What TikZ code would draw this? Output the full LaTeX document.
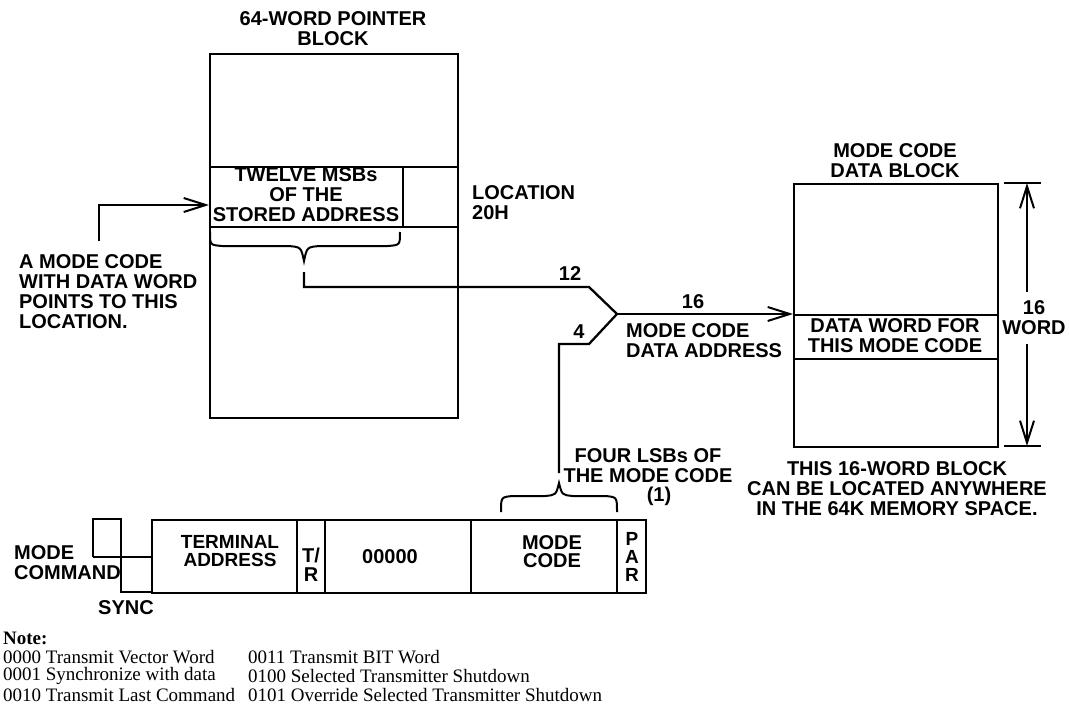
\documentclass[tikz,border=0pt]{standalone}
\usepackage{fontspec}
\setmainfont{Liberation Serif}
\newfontfamily\arialf{Liberation Sans}
\usetikzlibrary{arrows.meta}
\begin{document}
\begin{tikzpicture}[x=1pt,y=-1pt, line width=2.3pt,
  lab/.style={font=\arialf\bfseries\fontsize{20}{20}\selectfont, inner sep=0pt, align=center},
  labl/.style={lab, align=left, anchor=west},
  tight/.style={lab, font=\arialf\bfseries\fontsize{19}{18}\selectfont},
  notetxt/.style={font=\fontsize{19}{19}\selectfont, inner sep=0pt, anchor=west},
  barb/.style={-{Straight Barb[length=22pt,width=14pt,line width=2pt]}},
  blk/.style={draw, inner sep=0pt, anchor=north west}]
\useasboundingbox (0,0) rectangle (1069,706);

% ---------- 64-word pointer block ----------
\node[lab] (pbt) at (333,28.5) {64-WORD POINTER\\BLOCK};
\node[blk, minimum width=248pt, minimum height=364pt] (pb) at (209,53) {};
\draw (209,167) -- (457,167);
\draw (209,227) -- (457,227);
\draw (403,167) -- (403,227);
\node[lab] (msb) at (306,195) {TWELVE MSBs\\OF THE\\STORED ADDRESS};
\node[labl] (loc) at (471,203) {LOCATION\\20H};
\node[labl] (mcw) at (18,292) {A MODE CODE\\WITH DATA WORD\\POINTS TO THIS\\LOCATION.};
\coordinate (src) at (99,241);
\coordinate (tgt) at (209,205);
\draw[barb] (src) |- (tgt);

% brace under stored address
\draw[line width=2pt] (210,232) .. controls (210,245) .. (222,246) -- (288,246)
  .. controls (301,247) .. (304,261) .. controls (307,247) .. (320,246) -- (388,246)
  .. controls (400,245) .. (400,232);

% ---------- merge ----------
\coordinate (b1) at (304,272);
\coordinate (m12) at (589,287);
\coordinate (merge) at (617,314);
\coordinate (b2) at (559,473);
\coordinate (m4) at (589,344);
\draw (b1) |- (m12) -- (merge);
\draw (b2) |- (m4) -- (merge);
\node[lab] (l12) at (570,274) {12};
\node[lab] (l4) at (579,332) {4};
\node[lab] (l16) at (693,302) {16};
\node[labl] (mcda) at (625,341) {MODE CODE\\DATA ADDRESS};

% ---------- mode code data block ----------
\node[lab] (dbt) at (895,161) {MODE CODE\\DATA BLOCK};
\node[blk, minimum width=204pt, minimum height=263pt] (db) at (793,183) {};
\draw (793,315) -- (997,315);
\draw (793,359) -- (997,359);
\node[lab] (dw) at (895,335.5) {DATA WORD FOR\\THIS MODE CODE};
\draw[barb] (merge) -- (merge -| db.west);

% dimension
\draw (1004,183) -- (1041,183);
\draw (1004,446) -- (1041,446);
\coordinate (dtop) at (1027,183);
\coordinate (dbot) at (1027,446);
\coordinate (g1) at (1027,292);
\coordinate (g2) at (1027,344);
\node[lab] (dim) at (1034,318) {16\\WORD};
\draw[barb] (g1) -- (dtop);
\draw[barb] (g2) -- (dbot);
\node[lab] (any) at (897,489) {THIS 16-WORD BLOCK\\CAN BE LOCATED ANYWHERE\\IN THE 64K MEMORY SPACE.};

% ---------- command word ----------
\node[lab] (four) at (648,466) {FOUR LSBs OF\\THE MODE CODE};
\node[lab] (fn) at (659,496) {(1)};
\draw[line width=2pt] (501,512) .. controls (501,497) .. (513,496) -- (545,496)
  .. controls (556,495) .. (559,483) .. controls (562,495) .. (573,496) -- (605,496)
  .. controls (617,497) .. (617,512);

\node[blk, minimum width=494pt, minimum height=73pt] (cw) at (151,519) {};
\draw (297,519) -- (297,592);
\draw (325,519) -- (325,592);
\draw (471,519) -- (471,592);
\draw (617,519) -- (617,592);
\draw (93,557) -- (93,519) -- (121,519) -- (121,592) -- (151,592);
\draw (93,557) -- (151,557);

\node[labl] (mc) at (13,562.5) {MODE\\COMMAND};
\node[lab] (sync) at (126,608) {SYNC};
\node[tight] (ta) at (230,551.5) {TERMINAL\\ADDRESS};
\node[lab, font=\arialf\bfseries\fontsize{20}{19}\selectfont] (tr) at (311,564.5) {T/\\R};
\node[lab] (zero) at (390,557) {00000};
\node[lab, font=\arialf\bfseries\fontsize{20}{18}\selectfont] (mcode) at (552,552) {MODE\\CODE};
\node[tight] (par) at (632,557) {P\\A\\R};

% ---------- note ----------
\node[notetxt, font=\bfseries\fontsize{19}{19}\selectfont] (note) at (2,638) {Note:};
\node[notetxt] (n1) at (2,657) {0000 Transmit Vector Word};
\node[notetxt] (n2) at (2,676) {0001 Synchronize with data};
\node[notetxt] (n3) at (2,695) {0010 Transmit Last Command};
\node[notetxt] (n4) at (247,657) {0011 Transmit BIT Word};
\node[notetxt] (n5) at (247,676) {0100 Selected Transmitter Shutdown};
\node[notetxt] (n6) at (247,695) {0101 Override Selected Transmitter Shutdown};
\end{tikzpicture}
\end{document}
